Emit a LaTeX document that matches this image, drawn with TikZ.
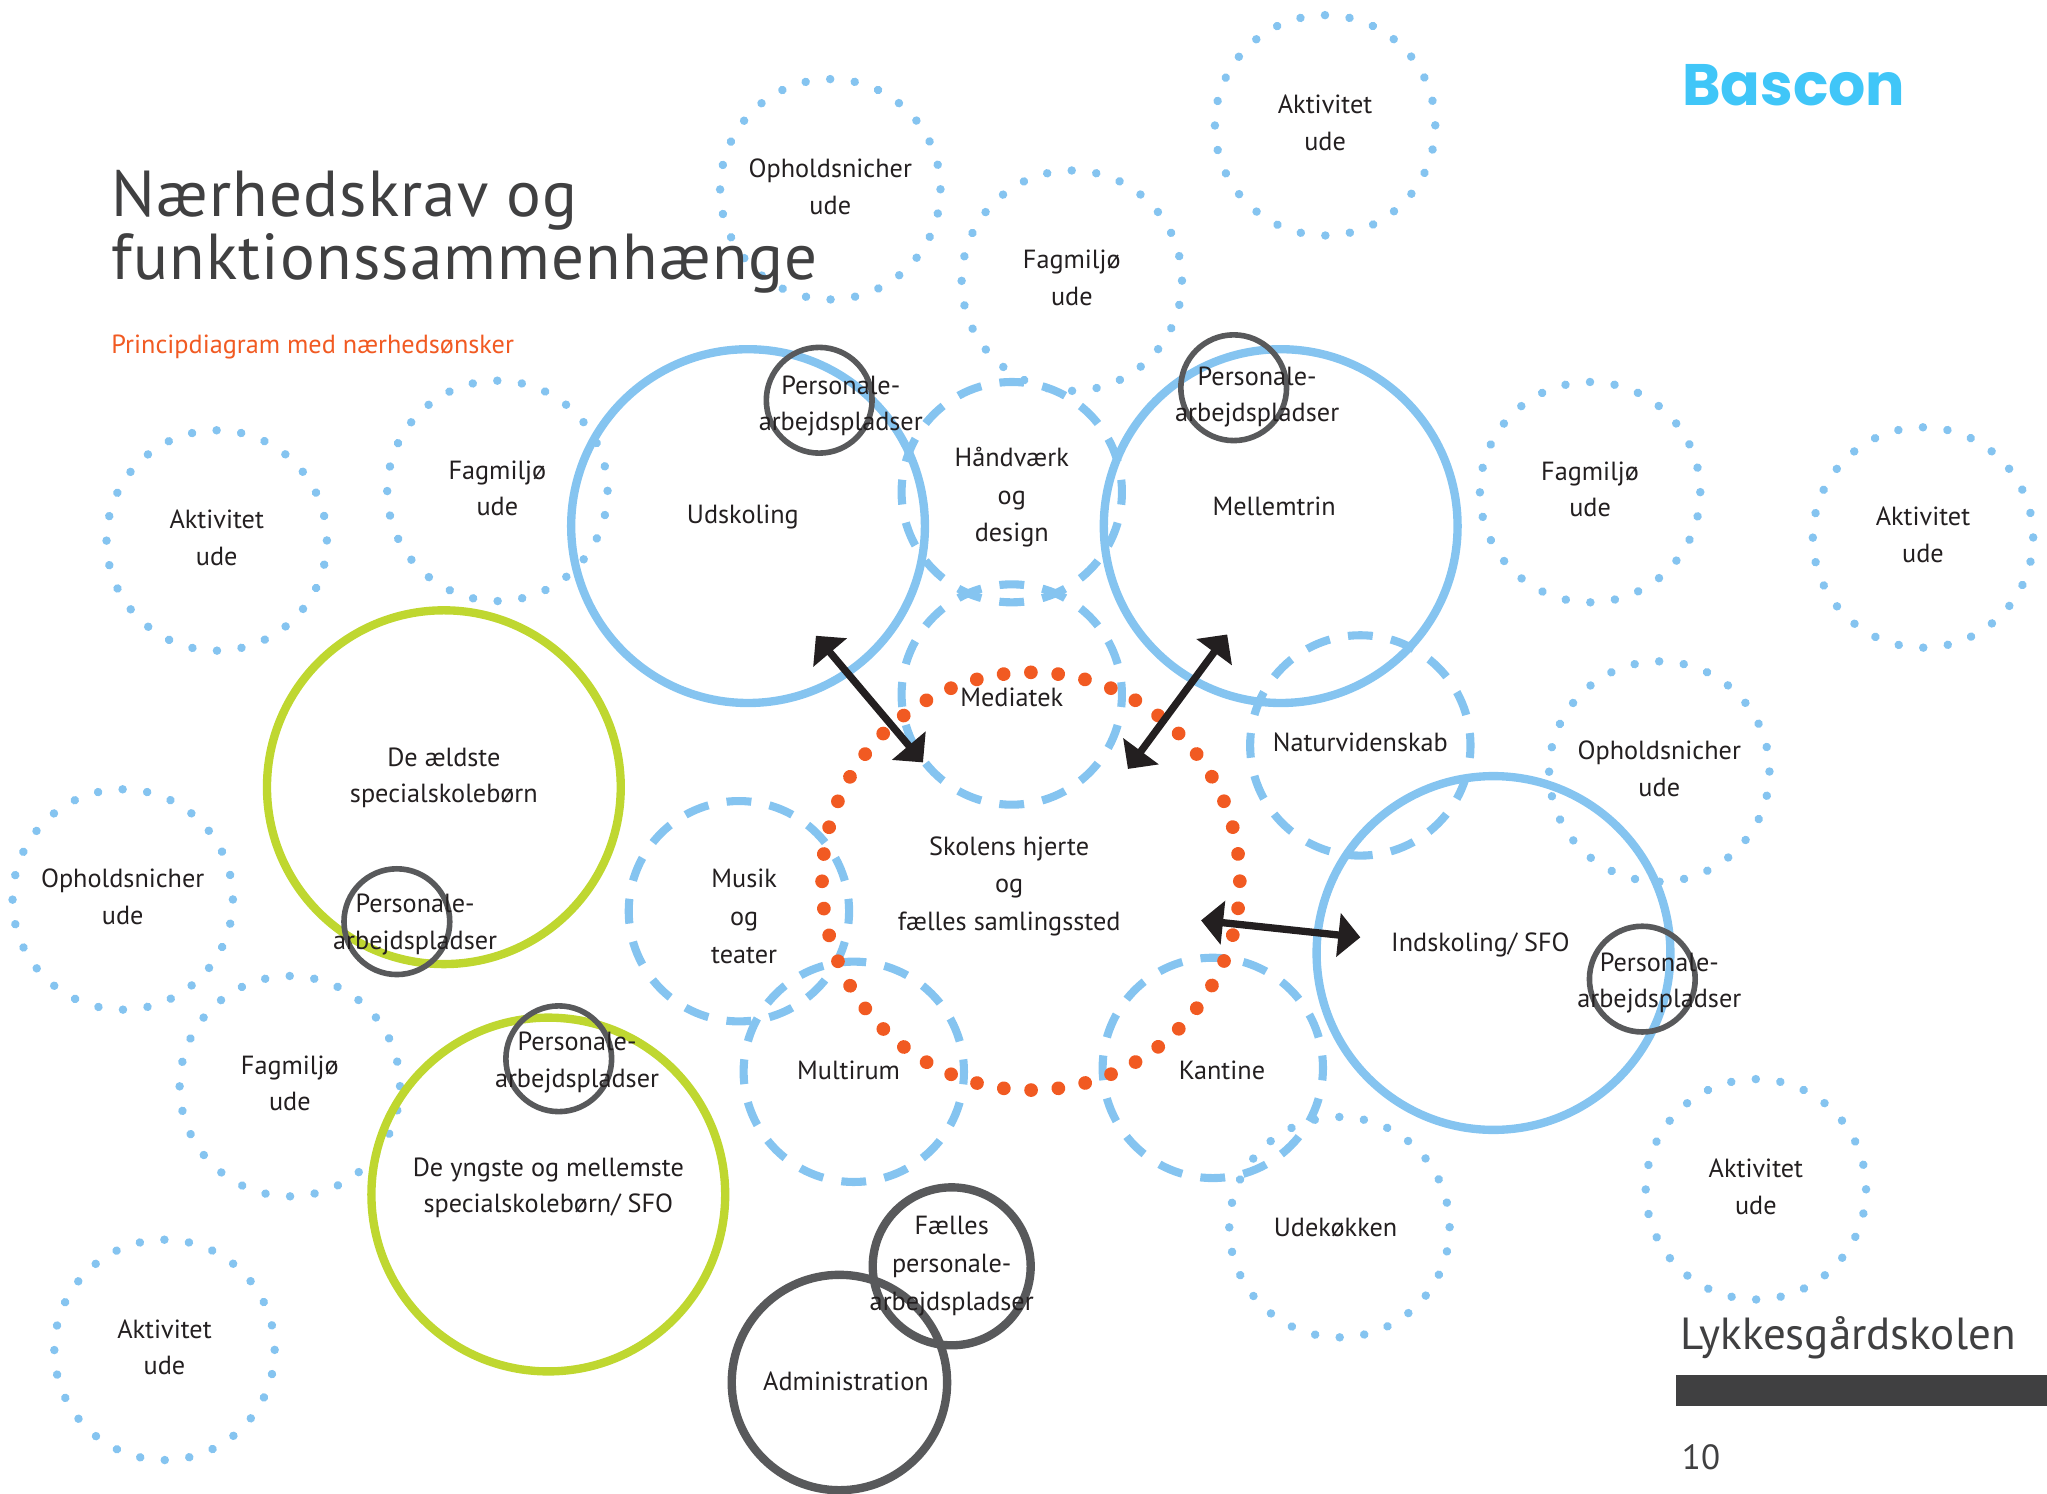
\documentclass[tikz,border=0pt]{standalone}
\usepackage{fontspec}
\setmainfont{PT Sans}
\newfontfamily\titlefont{PT Sans}[LetterSpace=1.8]
\newfontfamily\logofont{Poppins}
\usetikzlibrary{arrows.meta}
\definecolor{ringblue}{HTML}{85C4F0}
\definecolor{ringgreen}{HTML}{BFD730}
\definecolor{ringdark}{HTML}{58595B}
\definecolor{hartorange}{HTML}{F15A22}
\definecolor{logoblue}{HTML}{40C6F8}
\definecolor{inkdark}{HTML}{404041}
\definecolor{inkblack}{HTML}{231F20}
\newcommand*{\pxl   }{0.5222pt}
\newcommand*{\rfelt }{168.8*\pxl}
\newcommand*{\rbig  }{271*\pxl}
\tikzset{
    ring/.style     = {circle, inner sep=0pt, outer sep=0pt, align=center, text=inkblack, font=\fontsize{10.5}{14.6}\selectfont},
    dotring/.style  = {ring, text depth=2.2pt, draw=ringblue, line width=6.5*\pxl, line cap=round, minimum size=\rfelt, dash pattern=on 0.01pt off 18.93*\pxl},
    dashring/.style = {ring, draw=ringblue, line width=6.2*\pxl, minimum size=\rfelt, dash pattern=on 19*\pxl off 14.14*\pxl, dash phase=9.5*\pxl},
    bluering/.style = {ring, draw=ringblue, line width=6.4*\pxl, minimum size=\rbig},
    greenring/.style= {ring, draw=ringgreen, line width=6.4*\pxl, minimum size=\rbig},
    darkring/.style = {ring, draw=ringdark, line width=4.3*\pxl},
    hartring/.style = {ring, draw=hartorange, line width=10.5*\pxl, line cap=round, minimum size=320*\pxl, dash pattern=on 0.01pt off 20.93*\pxl},
    tekst/.style    = {inner sep=0pt, align=center, text=inkblack, font=\fontsize{10.5}{14.6}\selectfont},
    tekstvid/.style = {tekst, font=\fontsize{10.5}{15.1}\selectfont},
    dblarrow/.style = {{Triangle[length=8.8pt,width=17.2pt]}-{Triangle[length=8.8pt,width=17.2pt]}, draw=inkblack, line width=5.6*\pxl},
}
\begin{document}
\begin{tikzpicture}[x=\pxl, y=-\pxl]
    \useasboundingbox (0,0) rectangle (1568,1144.4);
    % udendoers
    \node (aktivitetTop)   [dotring] at (1015, 96) {Aktivitet\\ude};
    \node (opholdTop)      [dotring] at ( 636,145) {Opholdsnicher\\ude};
    \node (fagmiljoTop)    [dotring] at ( 821,215) {Fagmilj\o\\ude};
    \node (aktivitetVest)  [dotring] at ( 166,414) {Aktivitet\\ude};
    \node (fagmiljoVest)   [dotring] at ( 381,376) {Fagmilj\o\\ude};
    \node (fagmiljoOst)    [dotring] at (1218,377) {Fagmilj\o\\ude};
    \node (aktivitetOst)   [dotring] at (1473,411.7) {Aktivitet\\ude};
    \node (opholdOst)      [dotring] at (1271,591) {Opholdsnicher\\ude};
    \node (opholdVest)     [dotring] at (  94,689) {Opholdsnicher\\ude};
    \node (fagmiljoSyd)    [dotring] at ( 222,832) {Fagmilj\o\\ude};
    \node (aktivitetSyd)   [dotring] at ( 126,1034) {Aktivitet\\ude};
    \node (udekokken)      [dotring] at (1026,940) {};
    \node (aktivitetSydOst)[dotring] at (1345,911) {Aktivitet\\ude};
    % faelles funktioner
    \node (haandvaerk)     [dashring] at ( 775,377) {};
    \node (mediatek)       [dashring] at ( 775,532) {};
    \node (natur)          [dashring] at (1042,571) {};
    \node (musik)          [dashring] at ( 566,698) {};
    \node (multirum)       [dashring] at ( 654,821) {};
    \node (kantine)        [dashring] at ( 929,818) {};
    \node (hjerte)         [hartring] at (789.7,675) {};
    % afdelinger
    \node (udskoling)      [bluering] at ( 573,403) {};
    \node (mellemtrin)     [bluering] at ( 981,403) {};
    \node (indskoling)     [bluering] at (1144,730) {};
    \node (aeldste)        [greenring] at ( 340,603) {};
    \node (yngste)         [greenring] at ( 420,915) {};
    % personale
    \node (persUdskoling)  [darkring, minimum size=81*\pxl]  at ( 627.5,306.6) {};
    \node (persMellemtrin) [darkring, minimum size=81*\pxl]  at ( 945,297) {};
    \node (persAeldste)    [darkring, minimum size=81*\pxl]  at ( 304,706) {};
    \node (persYngste)     [darkring, minimum size=81*\pxl]  at ( 428,811) {};
    \node (persIndskoling) [darkring, minimum size=81*\pxl]  at (1258,750) {};
    \node (persFaelles)    [darkring, line width=6.4*\pxl, minimum size=121*\pxl] at ( 729,970) {};
    \node (administration) [darkring, line width=6.4*\pxl, minimum size=165*\pxl] at ( 643,1059) {};
    % tekster
    \node (tHaandvaerk) [tekstvid] at ( 775,381) {H\aa ndv\ae rk\\og\\design};
    \node (tNatur)      [tekst] at (1042,569) {Naturvidenskab};
    \node (tAeldste)    [tekst] at ( 340,596) {De \ae ldste\\specialskoleb\o rn};
    \node (tUdekokken)  [tekst] at (1023,940) {Udek\o kken};
    \node (tMediatek)   [tekst] at ( 775,534) {Mediatek};
    \node (tMusik)      [tekstvid] at ( 570,702) {Musik\\og\\teater};
    \node (tMultirum)   [tekst] at ( 650,820) {Multirum};
    \node (tKantine)    [tekst] at ( 936,820) {Kantine};
    \node (tHjerte)     [tekstvid] at ( 773,679) {Skolens hjerte\\og\\f\ae lles samlingssted};
    \node (tUdskoling)  [tekst] at ( 569,396) {Udskoling};
    \node (tMellemtrin) [tekst] at ( 976,388) {Mellemtrin};
    \node (tIndskoling) [tekst] at (1134,724) {Indskoling/ SFO};
    \node (tYngste)     [tekst] at ( 420,910) {De yngste og mellemste\\specialskoleb\o rn/ SFO};
    \node (tPersA)      [tekst] at ( 644,311) {Personale-\\arbejdspladser};
    \node (tPersB)      [tekst] at ( 963,304) {Personale-\\arbejdspladser};
    \node (tPersC)      [tekst] at ( 318,708) {Personale-\\arbejdspladser};
    \node (tPersD)      [tekst] at ( 442,814) {Personale-\\arbejdspladser};
    \node (tPersE)      [tekst] at (1271,753) {Personale-\\arbejdspladser};
    \node (tFaelles)    [tekstvid] at ( 729,970) {F\ae lles\\personale-\\arbejdspladser};
    \node (tAdmin)      [tekst] at ( 648,1058) {Administration};
    % pile
    \coordinate (pilUdskoling)  at ( 625,487);
    \coordinate (pilHjerteA)    at ( 707,584);
    \coordinate (pilMellemtrin) at ( 940,486);
    \coordinate (pilHjerteB)    at ( 864,589);
    \coordinate (pilHjerteC)    at ( 920,705);
    \coordinate (pilIndskoling) at (1042,718);
    \draw [dblarrow] (pilUdskoling)  -- (pilHjerteA);
    \draw [dblarrow] (pilMellemtrin) -- (pilHjerteB);
    \draw [dblarrow] (pilHjerteC)    -- (pilIndskoling);
    % overskrift og sidefod
    \node (titel) [inner sep=0pt, align=left, anchor=north west, text=inkdark, font=\titlefont\fontsize{26}{25.3}\selectfont] at (85,130) {N\ae rhedskrav og\\funktionssammenh\ae nge};
    \node (undertitel) [inner sep=0pt, anchor=west, text=hartorange, font=\fontsize{10.5}{14}\selectfont] at (85,266) {Principdiagram med n\ae rheds\o nsker};
    \node (logo) [inner sep=0pt, text=logoblue, font=\logofont\bfseries\fontsize{23.4}{30}\selectfont] at (1374,65) {Bascon};
    \node (skole) [inner sep=0pt, anchor=west, text=inkdark, font=\fontsize{18}{20}\selectfont] at (1287,1025) {Lykkesg\aa rdskolen};
    \node (sidetal) [inner sep=0pt, anchor=west, text=inkdark, font=\fontsize{14}{16}\selectfont] at (1288,1116) {10};
    \fill [inkdark] (1284,1053) rectangle (1568,1077);
\end{tikzpicture}
\end{document}
